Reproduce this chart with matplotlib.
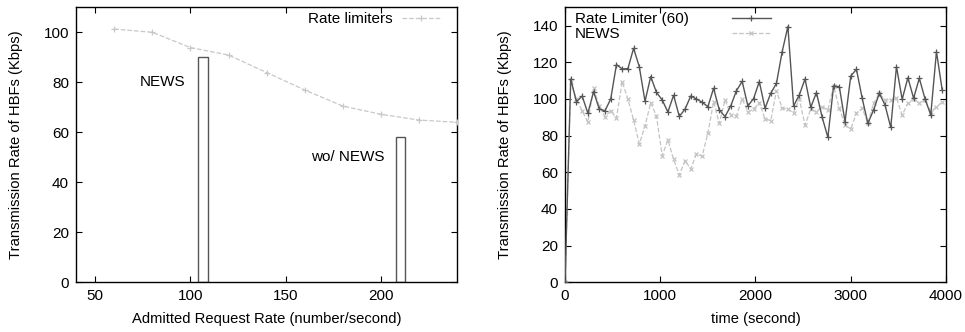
import matplotlib
matplotlib.use("Agg")
import matplotlib.pyplot as plt
from matplotlib.lines import Line2D
import numpy as np

plt.rcParams['font.family'] = ['Liberation Sans', 'DejaVu Sans']
plt.rcParams['font.size'] = 10.6

# left panel: admitted request rate vs. HBF transmission rate
limiter_rate = [60, 80, 100, 120, 140, 160, 180, 200, 220, 240]
limiter_kbps = [101.3, 100.0, 93.9, 90.9, 83.9, 76.9, 70.5, 67.2, 64.9, 64.0]
bar_rate = [106.7, 210.2]
bar_kbps = [90.3, 58.3]
bar_names = ['NEWS', 'wo/ NEWS']

# right panel: transmission rate over time
t = np.arange(0, 4000, 60)
limiter60 = [0, 110.9, 98.5, 101.6, 92.2, 104, 94.5, 93.6, 100, 118.7,
             116.4, 116.5, 127.6, 117.6, 98.7, 112.2, 103.6, 99.5, 92.9, 102,
             90.5, 94.4, 101.6, 100, 98.2, 95.8, 105.8, 94, 90.4, 96.2,
             104.5, 109.6, 96.2, 100.2, 109.5, 94.9, 103.1, 108.5, 125.8, 139.5,
             96.2, 102.2, 110.9, 95.5, 103.5, 90, 79.1, 107.1, 106.7, 87.6,
             112.5, 116.2, 100.4, 86.7, 94, 103.1, 96.7, 84.5, 117.6, 99.8,
             111.6, 100.4, 111.3, 100, 91.3, 125.8, 104.9]
news = [0, 109, 100, 93.6, 87.3, 105.8, 96.2, 90.4, 93.6, 89.5,
        109.5, 100, 88.5, 75.5, 85.3, 98, 90.7, 69.1, 77.6, 67.1,
        58.5, 66.4, 61.8, 70, 68.9, 81.3, 98.5, 86.7, 99.5, 91.3,
        90.9, 100, 93.1, 94.4, 98, 89.1, 88.2, 104.5, 94.9, 94.5,
        92.5, 100, 85.8, 94.4, 93.1, 95.8, 94, 107.1, 94.9, 85.8,
        83.6, 92.2, 94.9, 86.7, 97.6, 103.1, 99.5, 99.5, 100.4, 91.3,
        97.6, 100, 97.6, 99.5, 93.1, 95.5, 98.5]
series_names = ['Rate Limiter (60)', 'NEWS']

fig = plt.figure(figsize=(9.65, 3.32), dpi=100)
ax1 = fig.add_axes([0.0788, 0.1497, 0.3951, 0.8283])
ax2 = fig.add_axes([0.5855, 0.1497, 0.3948, 0.8283])

for ax in (ax1, ax2):
    ax.tick_params(direction='in', top=True, right=True, length=4, width=0.8,
                   labelsize=11, pad=5)
    for s in ax.spines.values():
        s.set_linewidth(1.0)

# left panel
ax1.bar(bar_rate, bar_kbps, width=5, facecolor='white', edgecolor='#555555',
        linewidth=1.0, zorder=2)
ax1.plot(limiter_rate, limiter_kbps, color='#c8c8c8', ls='--', lw=0.9,
         marker='+', ms=5, mew=0.9, label='Rate limiters', zorder=3)
ax1.text(97.5, 80, bar_names[0], ha='right', va='center', fontsize=11)
ax1.text(202, 50.2, bar_names[1], ha='right', va='center', fontsize=11)
ax1.set_xlim(40, 240)
ax1.set_ylim(0, 110)
ax1.set_xticks([50, 100, 150, 200])
ax1.set_yticks(range(0, 101, 20))
ax1.set_xlabel('Admitted Request Rate (number/second)', labelpad=6)
ax1.set_ylabel('Transmission Rate of HBFs (Kbps)', labelpad=15)
ax1.legend(loc='upper right', bbox_to_anchor=(0.97, 1.0), frameon=False,
           markerfirst=False, handlelength=2.6, borderaxespad=0, borderpad=0.3,
           handletextpad=0.6, fontsize=11)

# right panel
ax2.plot(t, limiter60, color='#555555', lw=1.0, marker='+', ms=5, mew=0.9,
         zorder=3)
ax2.plot(t, news, color='#c4c4c4', ls='--', lw=0.9, marker='x', ms=3.5, mew=0.9,
         zorder=2)
ax2.set_xlim(0, 4000)
ax2.set_ylim(0, 150)
ax2.set_xticks(range(0, 4001, 1000))
ax2.set_yticks(range(0, 141, 20))
ax2.set_xlabel('time (second)', labelpad=6)
ax2.set_ylabel('Transmission Rate of HBFs (Kbps)', labelpad=15)

# gnuplot-style key: left-justified titles, samples in a separate column
ax2.text(0.026, 0.957, series_names[0], transform=ax2.transAxes,
         ha='left', va='center', fontsize=11)
ax2.text(0.026, 0.902, series_names[1], transform=ax2.transAxes,
         ha='left', va='center', fontsize=11)
keys = [Line2D([], [], color='#555555', lw=1.0, marker='+', ms=5, mew=0.9,
               markevery=[1]),
        Line2D([], [], color='#c4c4c4', ls='--', lw=0.9, marker='x', ms=3.5,
               mew=0.9, markevery=[1])]
ax2.legend(keys, ['', ''], loc='upper left', bbox_to_anchor=(0.425, 1.0),
           frameon=False, handlelength=2.6, handletextpad=0, borderpad=0.3,
           borderaxespad=0, labelspacing=0.1, fontsize=11)

fig.savefig('out.png', dpi=100)
